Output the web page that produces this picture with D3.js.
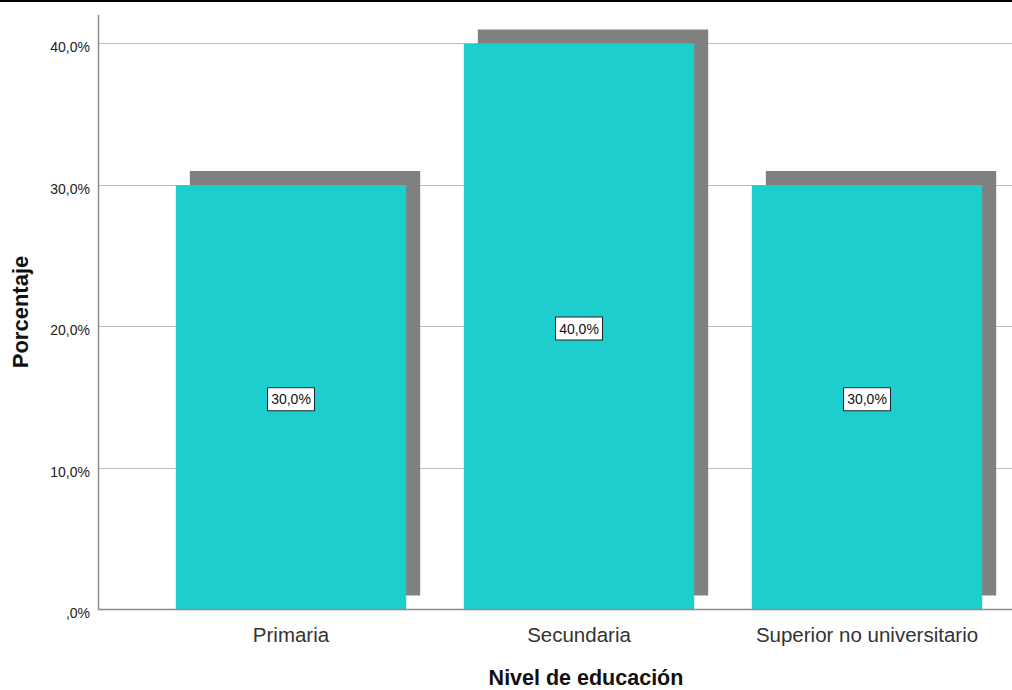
<!DOCTYPE html>
<html>
<head>
<meta charset="utf-8">
<script src="https://cdn.jsdelivr.net/npm/d3@7"></script>
<style>
  html, body { margin: 0; padding: 0; background: #fff; }
  svg { display: block; }
</style>
</head>
<body>
<svg id="chart" width="1012" height="690"></svg>
<script>
// Education level distribution (percent of respondents)
const categories = ["Primaria", "Secundaria", "Superior no universitario"];
const percentages = [30, 40, 30];
const yTicks = [0, 10, 20, 30, 40];
const yTickLabels = [",0%", "10,0%", "20,0%", "30,0%", "40,0%"];
const valueLabels = ["30,0%", "40,0%", "30,0%"];

const W = 1012, H = 690;
const svg = d3.select("#chart");
const FONT = "Liberation Sans, Arial, sans-serif";

const plot = { left: 98, right: 1012, top: 15, bottom: 609.5 };

const x = d3.scaleBand()
  .domain(categories)
  .range([147, 1011])
  .paddingInner(0.2)
  .paddingOuter(0.1);

const y = d3.scaleLinear()
  .domain([0, 42])
  .range([plot.bottom, plot.bottom - 42 * 14.15]);

// top border line
svg.append("rect").attr("x", 0).attr("y", 0).attr("width", W).attr("height", 2).attr("fill", "#000");

// horizontal gridlines
svg.append("g").selectAll("line")
  .data(yTicks.filter(d => d > 0))
  .join("line")
  .attr("x1", plot.left).attr("x2", plot.right)
  .attr("y1", d => Math.round(y(d)) + 0.5).attr("y2", d => Math.round(y(d)) + 0.5)
  .attr("stroke", "#bdbdbd").attr("stroke-width", 1);

const shadowOffset = 14;

// bar shadows
svg.append("g").selectAll("rect")
  .data(percentages)
  .join("rect")
  .attr("x", (d, i) => x(categories[i]) + shadowOffset)
  .attr("y", d => y(d) - shadowOffset)
  .attr("width", x.bandwidth())
  .attr("height", d => y(0) - y(d))
  .attr("fill", "#808080");

// bars
svg.append("g").selectAll("rect")
  .data(percentages)
  .join("rect")
  .attr("x", (d, i) => x(categories[i]))
  .attr("y", d => y(d))
  .attr("width", x.bandwidth())
  .attr("height", d => y(0) - y(d))
  .attr("fill", "#1ecece");

// y axis line and baseline
svg.append("line")
  .attr("x1", plot.left + 0.5).attr("x2", plot.left + 0.5)
  .attr("y1", plot.top).attr("y2", plot.bottom)
  .attr("stroke", "#8c8c8c").attr("stroke-width", 1.5);
svg.append("line")
  .attr("x1", plot.left).attr("x2", plot.right)
  .attr("y1", plot.bottom).attr("y2", plot.bottom)
  .attr("stroke", "#8c8c8c").attr("stroke-width", 1.5);

// y tick labels
svg.append("g").selectAll("text")
  .data(yTicks)
  .join("text")
  .attr("x", 90)
  .attr("y", d => y(d) + 8.5)
  .attr("text-anchor", "end")
  .attr("font-family", FONT)
  .attr("font-size", 14)
  .attr("fill", "#222")
  .text((d, i) => yTickLabels[i]);

// category labels
svg.append("g").selectAll("text")
  .data(categories)
  .join("text")
  .attr("x", d => x(d) + x.bandwidth() / 2)
  .attr("y", 642)
  .attr("text-anchor", "middle")
  .attr("font-family", FONT)
  .attr("font-size", 20.5)
  .attr("fill", "#333")
  .text(d => d);

// value labels in boxes
const lbl = svg.append("g").selectAll("g")
  .data(percentages)
  .join("g")
  .attr("transform", (d, i) => {
    const cx = x(categories[i]) + x.bandwidth() / 2;
    const cy = (y(d) + y(0)) / 2 + 2;
    return `translate(${cx},${cy})`;
  });
lbl.append("rect")
  .attr("x", -23.5).attr("y", -11.5)
  .attr("width", 47).attr("height", 23)
  .attr("fill", "#fff").attr("stroke", "#222").attr("stroke-width", 1);
lbl.append("text")
  .attr("y", 5)
  .attr("text-anchor", "middle")
  .attr("font-family", FONT)
  .attr("font-size", 14)
  .attr("fill", "#111")
  .text((d, i) => valueLabels[i]);

// axis titles
svg.append("text")
  .attr("x", 586).attr("y", 685)
  .attr("text-anchor", "middle")
  .attr("font-family", FONT)
  .attr("font-weight", "bold")
  .attr("font-size", 21.5)
  .attr("fill", "#111")
  .text("Nivel de educación");

svg.append("text")
  .attr("transform", "translate(28,312) rotate(-90)")
  .attr("text-anchor", "middle")
  .attr("font-family", FONT)
  .attr("font-weight", "bold")
  .attr("font-size", 22)
  .attr("fill", "#111")
  .text("Porcentaje");
</script>
</body>
</html>
